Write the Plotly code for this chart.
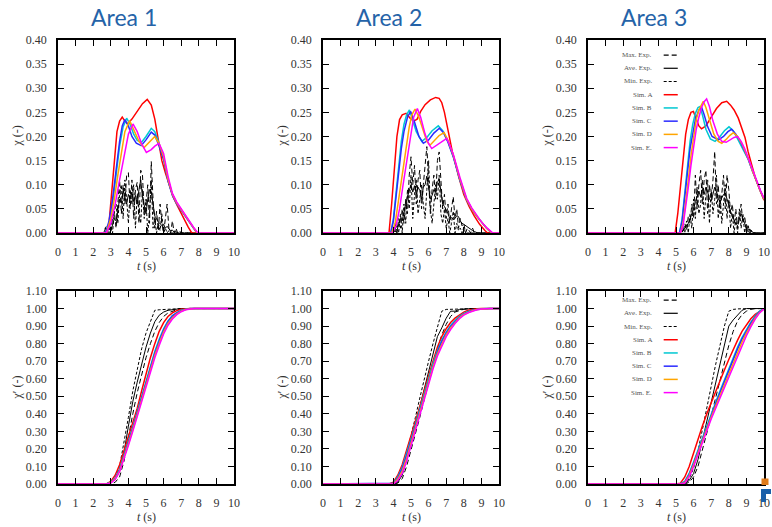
import plotly.graph_objects as go
from plotly.subplots import make_subplots

# ---------------- DATA ----------------
area_titles = ["Area 1", "Area 2", "Area 3"]
x_ticks = [0, 1, 2, 3, 4, 5, 6, 7, 8, 9, 10]
chi_ticks = [0.00, 0.05, 0.10, 0.15, 0.20, 0.25, 0.30, 0.35, 0.40]
cum_ticks = [0.0, 0.1, 0.2, 0.3, 0.4, 0.5, 0.6, 0.7, 0.8, 0.9, 1.0, 1.1]
legend_labels = ["Max. Exp.", "Ave. Exp.", "Min. Exp.", "Sim. A", "Sim. B", "Sim. C", "Sim. D", "Sim. E."]

# ---- Area 1, chi ----
a1_exp_t = [0, 2.6, 2.7, 2.8, 2.9, 3.0, 3.1, 3.2, 3.3, 3.4, 3.5, 3.6, 3.7, 3.8, 3.9, 4.0, 4.1, 4.2, 4.3, 4.4, 4.5,
            4.6, 4.7, 4.8, 4.9, 5.0, 5.1, 5.2, 5.3, 5.4, 5.5, 5.6, 5.7, 5.8, 5.9, 6.0, 6.1, 6.2, 6.3, 6.4, 6.5,
            6.6, 6.7, 6.8, 6.9, 7.0, 7.1, 7.2, 10]
a1_max = [0, 0, 0.01, 0.0, 0.02, 0.005, 0.03, 0.045, 0.01, 0.07, 0.11, 0.04, 0.10, 0.06, 0.12, 0.125, 0.05, 0.11, 0.03,
          0.09, 0.105, 0.02, 0.13, 0.12, 0.04, 0.06, 0.10, 0.02, 0.148, 0.07, 0.01, 0.045, 0.005, 0.06, 0.02, 0.0,
          0.03, 0.06, 0.01, 0.0, 0.025, 0.0, 0.01, 0.0, 0.005, 0, 0, 0, 0]
a1_ave = [0, 0, 0, 0.005, 0.01, 0.004, 0.015, 0.03, 0.025, 0.05, 0.07, 0.062, 0.088, 0.075, 0.06, 0.08, 0.07, 0.085,
          0.065, 0.078, 0.06, 0.09, 0.11, 0.075, 0.058, 0.04, 0.07, 0.09, 0.085, 0.055, 0.035, 0.03, 0.022, 0.02,
          0.015, 0.018, 0.01, 0.014, 0.008, 0.004, 0.006, 0.002, 0.003, 0, 0, 0, 0, 0, 0]
a1_min = [0, 0, 0.012, 0.015, 0.0, 0.02, 0.0, 0.045, 0.06, 0.02, 0.085, 0.10, 0.03, 0.11, 0.07, 0.02, 0.09, 0.06,
          0.10, 0.01, 0.08, 0.05, 0.02, 0.09, 0.03, 0.07, 0.0, 0.04, 0.11, 0.01, 0.03, 0.0, 0.02, 0.005, 0.04, 0.0,
          0.01, 0.0, 0.005, 0, 0, 0, 0, 0, 0, 0, 0, 0, 0]
a1_A_t = [0, 2.75, 2.9, 3.05, 3.2, 3.35, 3.5, 3.65, 3.8, 3.95, 4.2, 4.5, 4.8, 5.07, 5.3, 5.5, 5.7, 5.9, 6.1, 6.3,
          6.55, 6.8, 7.0, 7.2, 7.4, 7.6, 10]
a1_A = [0, 0, 0.02, 0.08, 0.15, 0.21, 0.232, 0.240, 0.232, 0.226, 0.236, 0.252, 0.268, 0.277, 0.265, 0.236, 0.19,
        0.15, 0.125, 0.10, 0.074, 0.055, 0.04, 0.026, 0.012, 0, 0]
a1_B_t = [0, 2.7, 2.9, 3.1, 3.3, 3.5, 3.7, 3.9, 4.1, 4.3, 4.5, 4.75, 5.0, 5.3, 5.5, 5.75, 6.0, 6.25, 6.5, 6.75, 7.0,
          7.25, 7.5, 7.7, 7.9, 10]
a1_B = [0, 0, 0.02, 0.06, 0.12, 0.18, 0.22, 0.238, 0.225, 0.205, 0.192, 0.188, 0.20, 0.217, 0.21, 0.185, 0.155, 0.11,
        0.08, 0.062, 0.048, 0.034, 0.02, 0.01, 0, 0]
a1_C_t = [0, 2.7, 2.9, 3.1, 3.3, 3.5, 3.65, 3.8, 4.0, 4.2, 4.45, 4.73, 5.0, 5.3, 5.5, 5.75, 6.0, 6.25, 6.5, 6.75,
          7.0, 7.25, 7.5, 7.7, 7.9, 10]
a1_C = [0, 0, 0.025, 0.07, 0.13, 0.19, 0.222, 0.235, 0.222, 0.20, 0.186, 0.181, 0.193, 0.209, 0.203, 0.18, 0.152,
        0.108, 0.078, 0.06, 0.047, 0.033, 0.02, 0.01, 0, 0]
a1_D_t = [0, 2.75, 3.0, 3.2, 3.4, 3.6, 3.8, 4.07, 4.3, 4.6, 4.89, 5.2, 5.5, 5.75, 6.0, 6.25, 6.5, 6.75, 7.0, 7.25,
          7.5, 7.7, 7.9, 10]
a1_D = [0, 0, 0.03, 0.07, 0.12, 0.17, 0.21, 0.233, 0.215, 0.19, 0.177, 0.188, 0.20, 0.185, 0.158, 0.112, 0.08,
        0.062, 0.048, 0.034, 0.02, 0.01, 0, 0]
a1_E_t = [0, 2.75, 3.0, 3.25, 3.5, 3.75, 4.0, 4.26, 4.5, 4.75, 5.02, 5.3, 5.5, 5.74, 6.0, 6.25, 6.5, 6.75, 7.0,
          7.25, 7.5, 7.7, 7.95, 10]
a1_E = [0, 0, 0.02, 0.06, 0.11, 0.16, 0.205, 0.226, 0.21, 0.185, 0.167, 0.173, 0.18, 0.186, 0.165, 0.118, 0.082,
        0.064, 0.05, 0.036, 0.022, 0.012, 0, 0]

# ---- Area 2, chi ----
a2_exp_t = [0, 3.9, 4.0, 4.1, 4.2, 4.3, 4.4, 4.5, 4.6, 4.7, 4.8, 4.9, 5.0, 5.1, 5.2, 5.3, 5.4, 5.5, 5.6, 5.7, 5.8,
            5.9, 6.0, 6.1, 6.2, 6.3, 6.4, 6.5, 6.6, 6.7, 6.8, 6.9, 7.0, 7.1, 7.2, 7.3, 7.4, 7.5, 7.6, 7.7, 7.8,
            7.9, 8.0, 8.1, 8.2, 8.3, 8.4, 8.5, 8.6, 8.7, 8.8, 10]
a2_max = [0, 0, 0.0, 0.02, 0.0, 0.03, 0.01, 0.05, 0.02, 0.07, 0.04, 0.12, 0.158, 0.10, 0.14, 0.06, 0.11, 0.13, 0.05,
          0.10, 0.14, 0.179, 0.11, 0.04, 0.09, 0.12, 0.07, 0.15, 0.168, 0.10, 0.05, 0.08, 0.03, 0.06, 0.02, 0.05,
          0.075, 0.03, 0.05, 0.01, 0.03, 0.015, 0.02, 0.0, 0.01, 0.005, 0.0, 0.01, 0, 0, 0, 0]
a2_ave = [0, 0, 0.003, 0.01, 0.005, 0.018, 0.03, 0.025, 0.045, 0.06, 0.075, 0.09, 0.10, 0.085, 0.098, 0.08, 0.095,
          0.088, 0.07, 0.095, 0.10, 0.118, 0.095, 0.07, 0.078, 0.09, 0.085, 0.105, 0.112, 0.09, 0.06, 0.055, 0.048,
          0.04, 0.03, 0.032, 0.028, 0.03, 0.036, 0.034, 0.025, 0.02, 0.018, 0.015, 0.012, 0.01, 0.006, 0.005,
          0.003, 0.002, 0, 0]
a2_min = [0, 0, 0.01, 0.0, 0.015, 0.0, 0.04, 0.0, 0.06, 0.02, 0.09, 0.05, 0.12, 0.03, 0.08, 0.11, 0.04, 0.07, 0.10,
          0.06, 0.03, 0.09, 0.15, 0.05, 0.02, 0.06, 0.10, 0.07, 0.12, 0.04, 0.02, 0.05, 0.01, 0.03, 0.0, 0.02, 0.045,
          0.0, 0.02, 0.005, 0.01, 0.0, 0.012, 0, 0, 0, 0, 0, 0, 0, 0, 0]
a2_A_t = [0, 3.75, 3.9, 4.05, 4.2, 4.35, 4.5, 4.72, 4.95, 5.15, 5.35, 5.55, 5.8, 6.1, 6.4, 6.6, 6.75, 6.9, 7.05,
          7.2, 7.35, 7.5, 7.7, 8.0, 8.3, 8.6, 8.9, 9.2, 9.35, 10]
a2_A = [0, 0, 0.06, 0.14, 0.20, 0.235, 0.245, 0.248, 0.238, 0.232, 0.236, 0.252, 0.266, 0.276, 0.281, 0.279, 0.27,
        0.25, 0.22, 0.19, 0.168, 0.148, 0.118, 0.08, 0.055, 0.035, 0.018, 0.005, 0, 0]
a2_B_t = [0, 3.85, 4.0, 4.15, 4.3, 4.45, 4.6, 4.75, 4.91, 5.1, 5.3, 5.61, 5.9, 6.2, 6.55, 6.8, 7.1, 7.41, 7.78,
          8.16, 8.45, 8.73, 9.0, 9.3, 9.58, 10]
a2_B = [0, 0, 0.03, 0.08, 0.14, 0.19, 0.225, 0.245, 0.255, 0.235, 0.21, 0.19, 0.198, 0.212, 0.222, 0.212, 0.19,
        0.158, 0.11, 0.069, 0.05, 0.035, 0.022, 0.01, 0, 0]
a2_C_t = [0, 3.85, 4.0, 4.15, 4.3, 4.45, 4.6, 4.8, 4.98, 5.2, 5.45, 5.7, 6.0, 6.3, 6.61, 6.85, 7.1, 7.41, 7.78,
          8.16, 8.45, 8.73, 9.0, 9.3, 9.6, 10]
a2_C = [0, 0, 0.025, 0.07, 0.125, 0.175, 0.21, 0.24, 0.252, 0.23, 0.20, 0.186, 0.193, 0.207, 0.217, 0.208, 0.188,
        0.157, 0.11, 0.069, 0.05, 0.035, 0.022, 0.01, 0, 0]
a2_D_t = [0, 3.9, 4.1, 4.3, 4.5, 4.7, 4.9, 5.05, 5.23, 5.45, 5.7, 5.9, 6.08, 6.35, 6.6, 6.88, 7.1, 7.41, 7.78,
          8.16, 8.45, 8.73, 9.0, 9.3, 9.6, 10]
a2_D = [0, 0, 0.02, 0.07, 0.13, 0.18, 0.22, 0.245, 0.257, 0.24, 0.21, 0.19, 0.182, 0.192, 0.202, 0.208, 0.192,
        0.16, 0.112, 0.07, 0.05, 0.035, 0.022, 0.01, 0, 0]
a2_E_t = [0, 3.95, 4.15, 4.35, 4.55, 4.75, 4.95, 5.15, 5.36, 5.55, 5.8, 6.0, 6.18, 6.45, 6.75, 7.03, 7.2, 7.41,
          7.78, 8.16, 8.45, 8.73, 9.0, 9.3, 9.65, 10]
a2_E = [0, 0, 0.015, 0.05, 0.10, 0.15, 0.20, 0.24, 0.258, 0.24, 0.205, 0.185, 0.175, 0.182, 0.19, 0.196, 0.183,
        0.162, 0.115, 0.072, 0.052, 0.036, 0.023, 0.011, 0, 0]

# ---- Area 3, chi ----
a3_exp_t = [0, 5.2, 5.3, 5.4, 5.5, 5.6, 5.7, 5.8, 5.9, 6.0, 6.1, 6.2, 6.3, 6.4, 6.5, 6.6, 6.7, 6.8, 6.9, 7.0, 7.1,
            7.2, 7.3, 7.4, 7.5, 7.6, 7.7, 7.8, 7.9, 8.0, 8.1, 8.2, 8.3, 8.4, 8.5, 8.6, 8.7, 8.8, 8.9, 9.0, 9.1,
            9.2, 9.3, 9.4, 9.5, 10]
a3_max = [0, 0, 0.01, 0.0, 0.02, 0.005, 0.035, 0.02, 0.06, 0.03, 0.12, 0.05, 0.10, 0.13, 0.06, 0.11, 0.13, 0.04,
          0.10, 0.07, 0.11, 0.169, 0.06, 0.10, 0.04, 0.09, 0.12, 0.05, 0.12, 0.09, 0.04, 0.06, 0.02, 0.05, 0.01,
          0.03, 0.06, 0.02, 0.035, 0.005, 0.015, 0.0, 0.006, 0, 0, 0]
a3_ave = [0, 0, 0.003, 0.005, 0.01, 0.015, 0.02, 0.03, 0.04, 0.05, 0.065, 0.078, 0.087, 0.075, 0.09, 0.08, 0.095,
          0.085, 0.07, 0.066, 0.08, 0.095, 0.085, 0.07, 0.065, 0.072, 0.08, 0.083, 0.07, 0.055, 0.045, 0.035,
          0.025, 0.018, 0.02, 0.03, 0.04, 0.03, 0.018, 0.01, 0.008, 0.005, 0.003, 0.001, 0, 0]
a3_min = [0, 0, 0.005, 0.012, 0.0, 0.025, 0.0, 0.04, 0.01, 0.07, 0.03, 0.095, 0.04, 0.06, 0.11, 0.03, 0.08, 0.11,
          0.02, 0.09, 0.04, 0.07, 0.12, 0.03, 0.08, 0.02, 0.06, 0.10, 0.03, 0.07, 0.01, 0.04, 0.0, 0.03, 0.0, 0.05,
          0.01, 0.04, 0.0, 0.02, 0.0, 0.01, 0, 0, 0, 0]
a3_A_t = [0, 4.95, 5.1, 5.25, 5.4, 5.55, 5.7, 5.85, 5.99, 6.15, 6.3, 6.45, 6.7, 7.0, 7.3, 7.6, 7.88, 8.1, 8.3,
          8.54, 8.75, 8.92, 9.1, 9.3, 9.5, 9.75, 10]
a3_A = [0, 0, 0.04, 0.10, 0.16, 0.205, 0.235, 0.25, 0.252, 0.238, 0.222, 0.216, 0.222, 0.24, 0.258, 0.27, 0.273,
        0.265, 0.255, 0.238, 0.218, 0.198, 0.168, 0.14, 0.115, 0.09, 0.068]
a3_B_t = [0, 5.2, 5.35, 5.5, 5.65, 5.8, 5.95, 6.1, 6.25, 6.36, 6.5, 6.7, 6.95, 7.22, 7.5, 7.75, 8.01, 8.25, 8.5,
          8.8, 9.11, 9.35, 9.58, 9.8, 10]
a3_B = [0, 0, 0.03, 0.08, 0.14, 0.19, 0.225, 0.248, 0.26, 0.262, 0.245, 0.215, 0.195, 0.19, 0.20, 0.212, 0.22,
        0.212, 0.195, 0.175, 0.152, 0.128, 0.105, 0.087, 0.07]
a3_C_t = [0, 5.2, 5.35, 5.5, 5.65, 5.8, 5.95, 6.1, 6.3, 6.46, 6.6, 6.8, 7.05, 7.41, 7.7, 7.95, 8.16, 8.4, 8.65,
          8.9, 9.11, 9.35, 9.58, 9.8, 10]
a3_C = [0, 0, 0.025, 0.07, 0.125, 0.175, 0.21, 0.235, 0.255, 0.26, 0.245, 0.22, 0.20, 0.193, 0.20, 0.21, 0.215,
        0.205, 0.19, 0.17, 0.153, 0.128, 0.105, 0.087, 0.07]
a3_D_t = [0, 5.25, 5.4, 5.55, 5.7, 5.85, 6.0, 6.15, 6.3, 6.45, 6.55, 6.7, 6.9, 7.15, 7.4, 7.6, 7.85, 8.05, 8.26,
          8.5, 8.75, 8.95, 9.15, 9.35, 9.58, 9.8, 10]
a3_D = [0, 0, 0.02, 0.06, 0.11, 0.16, 0.20, 0.235, 0.255, 0.268, 0.273, 0.26, 0.235, 0.205, 0.19, 0.186, 0.194,
        0.202, 0.208, 0.20, 0.185, 0.168, 0.15, 0.128, 0.105, 0.087, 0.07]
a3_E_t = [0, 5.25, 5.4, 5.55, 5.7, 5.85, 6.0, 6.15, 6.3, 6.45, 6.6, 6.74, 6.9, 7.1, 7.35, 7.6, 7.85, 8.1, 8.3, 8.5,
          8.7, 8.9, 9.1, 9.35, 9.58, 9.8, 10]
a3_E = [0, 0, 0.015, 0.05, 0.095, 0.14, 0.18, 0.215, 0.24, 0.26, 0.272, 0.278, 0.262, 0.232, 0.205, 0.19, 0.188,
        0.193, 0.198, 0.20, 0.19, 0.175, 0.155, 0.13, 0.107, 0.088, 0.072]

# ---- Area 1, chi' ----
a1c_t = [0, 2.75, 3.0, 3.25, 3.5, 3.75, 4.0, 4.25, 4.5, 4.75, 5.0, 5.25, 5.5, 5.75, 6.0, 6.25, 6.5, 6.75, 7.0,
         7.25, 7.5, 7.75, 8.0, 10]
a1c_max = [0, 0, 0, 0.01, 0.04, 0.13, 0.27, 0.40, 0.52, 0.62, 0.72, 0.80, 0.87, 0.92, 0.955, 0.975, 0.985, 0.993,
           0.998, 1, 1, 1, 1, 1]
a1c_ave = [0, 0, 0.005, 0.03, 0.08, 0.18, 0.33, 0.47, 0.58, 0.68, 0.78, 0.86, 0.925, 0.962, 0.98, 0.99, 0.994,
           0.998, 1, 1, 1, 1, 1, 1]
a1c_min = [0, 0, 0.008, 0.035, 0.10, 0.23, 0.38, 0.53, 0.66, 0.77, 0.86, 0.93, 0.99, 0.993, 0.995, 0.996, 0.997,
           0.999, 1, 1, 1, 1, 1, 1]
a1c_A = [0, 0, 0.015, 0.05, 0.11, 0.19, 0.27, 0.35, 0.43, 0.53, 0.63, 0.72, 0.80, 0.87, 0.92, 0.955, 0.975, 0.988,
         0.996, 1, 1, 1, 1, 1]
a1c_B = [0, 0, 0.01, 0.035, 0.085, 0.16, 0.245, 0.325, 0.41, 0.50, 0.59, 0.675, 0.755, 0.825, 0.885, 0.93, 0.96,
         0.977, 0.99, 0.996, 1, 1, 1, 1]
a1c_C = [0, 0, 0.01, 0.033, 0.08, 0.155, 0.24, 0.32, 0.405, 0.492, 0.58, 0.665, 0.745, 0.815, 0.877, 0.925, 0.957,
         0.975, 0.988, 0.995, 1, 1, 1, 1]
a1c_D = [0, 0, 0.008, 0.03, 0.075, 0.148, 0.23, 0.31, 0.395, 0.48, 0.567, 0.652, 0.732, 0.802, 0.866, 0.915, 0.948,
         0.97, 0.985, 0.994, 0.998, 1, 1, 1]
a1c_E = [0, 0, 0.005, 0.025, 0.07, 0.14, 0.22, 0.30, 0.385, 0.47, 0.555, 0.64, 0.72, 0.79, 0.855, 0.905, 0.94,
         0.965, 0.982, 0.993, 0.998, 1, 1, 1]

# ---- Area 2, chi' ----
a2c_t = [0, 3.75, 4.0, 4.25, 4.5, 4.75, 5.0, 5.25, 5.5, 5.75, 6.0, 6.25, 6.5, 6.75, 7.0, 7.25, 7.5, 7.75, 8.0,
         8.25, 8.5, 8.75, 9.0, 9.25, 9.5, 9.75, 10]
a2c_max = [0, 0, 0, 0.005, 0.03, 0.10, 0.19, 0.28, 0.38, 0.48, 0.57, 0.67, 0.77, 0.85, 0.91, 0.955, 0.98, 0.99,
           0.996, 1, 1, 1, 1, 1, 1, 1, 1]
a2c_ave = [0, 0, 0, 0.01, 0.05, 0.14, 0.24, 0.33, 0.44, 0.54, 0.63, 0.74, 0.84, 0.89, 0.945, 0.985, 0.985, 0.995,
           0.998, 1, 1, 1, 1, 1, 1, 1, 1]
a2c_min = [0, 0, 0, 0.015, 0.07, 0.17, 0.27, 0.38, 0.49, 0.60, 0.70, 0.80, 0.90, 0.985, 0.995, 0.996, 0.998, 1, 1,
           1, 1, 1, 1, 1, 1, 1, 1]
a2c_A = [0, 0, 0.01, 0.05, 0.11, 0.19, 0.27, 0.35, 0.44, 0.53, 0.62, 0.70, 0.78, 0.84, 0.885, 0.92, 0.945, 0.965,
         0.98, 0.99, 0.995, 0.999, 1, 1, 1, 1, 1]
a2c_B = [0, 0, 0.005, 0.04, 0.095, 0.17, 0.255, 0.34, 0.43, 0.52, 0.605, 0.685, 0.76, 0.82, 0.866, 0.903, 0.932,
         0.955, 0.972, 0.984, 0.991, 0.996, 0.999, 1, 1, 1, 1]
a2c_C = [0, 0, 0.004, 0.035, 0.088, 0.162, 0.247, 0.333, 0.423, 0.512, 0.597, 0.677, 0.752, 0.812, 0.86, 0.898,
         0.928, 0.952, 0.97, 0.982, 0.99, 0.995, 0.998, 1, 1, 1, 1]
a2c_D = [0, 0, 0.002, 0.028, 0.074, 0.145, 0.232, 0.32, 0.41, 0.50, 0.586, 0.666, 0.741, 0.80, 0.85, 0.889, 0.921,
         0.947, 0.966, 0.979, 0.988, 0.994, 0.997, 1, 1, 1, 1]
a2c_E = [0, 0, 0, 0.02, 0.06, 0.13, 0.22, 0.31, 0.40, 0.49, 0.575, 0.655, 0.73, 0.79, 0.84, 0.88, 0.915, 0.942,
         0.962, 0.976, 0.986, 0.993, 0.997, 1, 1, 1, 1]

# ---- Area 3, chi' ----
a3c_t = [0, 5.0, 5.25, 5.5, 5.75, 6.0, 6.25, 6.5, 6.75, 7.0, 7.25, 7.5, 7.75, 8.0, 8.25, 8.5, 8.75, 9.0, 9.25,
         9.5, 9.75, 10]
a3c_max = [0, 0, 0, 0, 0.01, 0.04, 0.10, 0.19, 0.29, 0.39, 0.49, 0.59, 0.69, 0.79, 0.87, 0.93, 0.965, 0.985, 0.995,
           1, 1, 1]
a3c_ave = [0, 0, 0, 0.003, 0.02, 0.06, 0.14, 0.25, 0.36, 0.46, 0.57, 0.68, 0.79, 0.90, 0.935, 0.965, 0.99, 1, 1, 1,
           1, 1]
a3c_min = [0, 0, 0, 0.005, 0.03, 0.09, 0.19, 0.31, 0.44, 0.56, 0.68, 0.79, 0.90, 0.985, 0.995, 0.998, 1, 1, 1, 1,
           1, 1]
a3c_A = [0, 0, 0.005, 0.04, 0.10, 0.18, 0.26, 0.33, 0.40, 0.465, 0.525, 0.585, 0.65, 0.71, 0.77, 0.82, 0.87, 0.91,
         0.942, 0.967, 0.986, 1]
a3c_B = [0, 0, 0.002, 0.015, 0.06, 0.125, 0.195, 0.265, 0.335, 0.40, 0.465, 0.53, 0.595, 0.66, 0.72, 0.78, 0.835,
         0.88, 0.922, 0.958, 0.985, 1]
a3c_C = [0, 0, 0.001, 0.012, 0.055, 0.118, 0.188, 0.258, 0.326, 0.392, 0.456, 0.52, 0.584, 0.648, 0.71, 0.77,
         0.826, 0.873, 0.916, 0.953, 0.982, 0.999]
a3c_D = [0, 0, 0, 0.008, 0.048, 0.11, 0.18, 0.25, 0.316, 0.38, 0.443, 0.505, 0.567, 0.63, 0.69, 0.75, 0.808, 0.86,
         0.906, 0.946, 0.978, 0.998]
a3c_E = [0, 0, 0, 0.005, 0.04, 0.10, 0.17, 0.24, 0.305, 0.37, 0.43, 0.49, 0.55, 0.61, 0.67, 0.73, 0.79, 0.845,
         0.895, 0.94, 0.975, 0.997]

# ---------------- STYLE ----------------
SERIF = "Liberation Serif"
TXT = "#333333"
sim_colors = ["#ff0000", "#00c8d2", "#2a2aff", "#ffa500", "#ff00ff"]
exp_dash = ["5px,3px", "solid", "3px,2px"]

top_sets = [
    (a1_exp_t, [a1_max, a1_ave, a1_min], [(a1_A_t, a1_A), (a1_B_t, a1_B), (a1_C_t, a1_C), (a1_D_t, a1_D), (a1_E_t, a1_E)]),
    (a2_exp_t, [a2_max, a2_ave, a2_min], [(a2_A_t, a2_A), (a2_B_t, a2_B), (a2_C_t, a2_C), (a2_D_t, a2_D), (a2_E_t, a2_E)]),
    (a3_exp_t, [a3_max, a3_ave, a3_min], [(a3_A_t, a3_A), (a3_B_t, a3_B), (a3_C_t, a3_C), (a3_D_t, a3_D), (a3_E_t, a3_E)]),
]
bot_sets = [
    (a1c_t, [a1c_max, a1c_ave, a1c_min], [a1c_A, a1c_B, a1c_C, a1c_D, a1c_E]),
    (a2c_t, [a2c_max, a2c_ave, a2c_min], [a2c_A, a2c_B, a2c_C, a2c_D, a2c_E]),
    (a3c_t, [a3c_max, a3c_ave, a3c_min], [a3c_A, a3c_B, a3c_C, a3c_D, a3c_E]),
]

fig = make_subplots(rows=2, cols=3)

for c, (te, exps, sims) in enumerate(top_sets):
    for k, ys in enumerate(exps):
        fig.add_trace(go.Scatter(x=te, y=ys, mode="lines", showlegend=False, name=legend_labels[k],
                                 line=dict(color="black", width=1, dash=exp_dash[k])), row=1, col=c + 1)
    for k, (ts, ys) in enumerate(sims):
        fig.add_trace(go.Scatter(x=ts, y=ys, mode="lines", showlegend=False, name=legend_labels[3 + k],
                                 line=dict(color=sim_colors[k], width=1.5)), row=1, col=c + 1)

for c, (tc, exps, sims) in enumerate(bot_sets):
    for k, ys in enumerate(exps):
        fig.add_trace(go.Scatter(x=tc, y=ys, mode="lines", showlegend=False, name=legend_labels[k],
                                 line=dict(color="black", width=1, dash=exp_dash[k])), row=2, col=c + 1)
    for k, ys in enumerate(sims):
        fig.add_trace(go.Scatter(x=tc, y=ys, mode="lines", showlegend=False, name=legend_labels[3 + k],
                                 line=dict(color=sim_colors[k], width=1.5)), row=2, col=c + 1)

W, H = 772, 527
col_left = [58, 323, 588]
plot_w = 176
top_px = (40, 233)
bot_px = (291, 484)

axis_common = dict(showline=True, linecolor="black", linewidth=1.5, mirror="allticks", ticks="inside",
                   ticklen=6, tickwidth=1, tickcolor="black", showgrid=False, zeroline=False,
                   automargin=False, tickfont=dict(family=SERIF, size=12, color=TXT))

for r in range(2):
    for c in range(3):
        xd = [col_left[c] / W, (col_left[c] + plot_w) / W]
        py = top_px if r == 0 else bot_px
        yd = [(H - py[1]) / H, (H - py[0]) / H]
        fig.update_xaxes(row=r + 1, col=c + 1, domain=xd, range=[0, 10], tickvals=x_ticks,
                         ticklabelstandoff=7, **axis_common)
        if r == 0:
            fig.update_yaxes(row=r + 1, col=c + 1, domain=yd, range=[0, 0.40], tickvals=chi_ticks,
                             tickformat=".2f", ticklabelstandoff=7, **axis_common)
        else:
            fig.update_yaxes(row=r + 1, col=c + 1, domain=yd, range=[0, 1.10], tickvals=cum_ticks,
                             tickformat=".2f", ticklabelstandoff=7, **axis_common)

annotations = []
shapes = []
for c in range(3):
    annotations.append(dict(text=area_titles[c], xref="paper", yref="paper", x=(col_left[c] + 66) / W,
                            y=(H - 17) / H, xanchor="center", yanchor="middle", showarrow=False,
                            font=dict(family="Lato", size=23, color="#2563a8")))
    for r, lab in enumerate(["χ (-)", "χ′ (-)"]):
        py = top_px if r == 0 else bot_px
        annotations.append(dict(text=lab, xref="paper", yref="paper", x=(col_left[c] - 42) / W,
                                y=(H - (py[0] + py[1]) / 2) / H, textangle=-90, xanchor="center",
                                yanchor="middle", showarrow=False,
                                font=dict(family=SERIF, size=12, color=TXT)))
        annotations.append(dict(text="<i>t</i> (s)", xref="paper", yref="paper",
                                x=(col_left[c] + plot_w / 2) / W, y=(H - (py[1] + 33)) / H,
                                xanchor="center", yanchor="middle", showarrow=False,
                                font=dict(family=SERIF, size=12, color=TXT)))

# manual legends inside Area 3 panels
leg_dash = exp_dash + ["solid"] * 5
leg_color = ["black"] * 3 + sim_colors
for axn, y0 in (("3", 0.922), ("6", 0.953)):
    for i, lab in enumerate(legend_labels):
        yy = y0 - i * 0.0685
        annotations.append(dict(text=lab, xref="x%s domain" % axn, yref="y%s domain" % axn, x=0.375, y=yy,
                                xanchor="right", yanchor="middle", showarrow=False,
                                font=dict(family=SERIF, size=7, color="#555555")))
        shapes.append(dict(type="line", xref="x%s domain" % axn, yref="y%s domain" % axn, x0=0.43, x1=0.51,
                           y0=yy, y1=yy, line=dict(color=leg_color[i], width=1.2 if i < 3 else 1.5,
                                                   dash=leg_dash[i])))

# small logo at bottom-right corner
shapes.append(dict(type="rect", xref="paper", yref="paper", x0=761.5 / W, x1=768.5 / W,
                   y0=(H - 485) / H, y1=(H - 478.5) / H, fillcolor="#e07b1a", line=dict(width=0)))
shapes.append(dict(type="path", xref="paper", yref="paper",
                   path="M {a},{b} L {c},{b} L {c},{d} L {e},{d} L {e},{f} L {a},{f} Z".format(
                       a=761 / W, b=(H - 489) / H, c=771 / W, d=(H - 494) / H, e=766 / W, f=(H - 502) / H),
                   fillcolor="#1a5fa8", line=dict(width=0)))

fig.update_layout(width=W, height=H, margin=dict(l=0, r=0, t=0, b=0), plot_bgcolor="white",
                  paper_bgcolor="white", showlegend=False, annotations=annotations, shapes=shapes)

fig.write_html("out.html", config={"displayModeBar": False},
               post_script="document.body.style.margin='0px';document.body.style.overflow='hidden';")
